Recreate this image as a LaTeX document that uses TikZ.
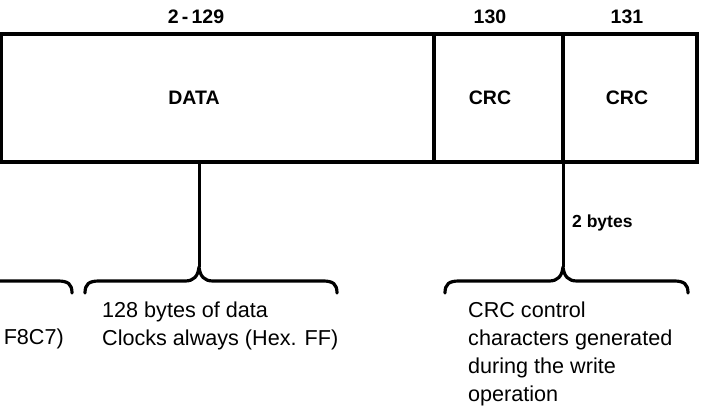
\documentclass[tikz,border=0pt]{standalone}
\usepackage{fontspec}
\setmainfont{Liberation Sans}
\tikzset{
  boxline/.style={line width=3.4pt, line cap=rect},
  stem/.style={line width=3pt},
  bracestyle/.style={line width=3.2pt, line cap=round, line join=round},
  boldlabel/.style={font=\fontsize{19.5}{23}\selectfont\bfseries, inner sep=0pt},
  smalllabel/.style={font=\fontsize{17.5}{21}\selectfont\bfseries, inner sep=0pt},
  desc/.style={font=\fontsize{21.6}{28}\selectfont, align=left, inner sep=0pt},
}
\newcommand{\drawcurly}[3]{%
  \draw[bracestyle] (#1,293) .. controls (#1,284) and (#1+4,281) .. (#1+14,281)
    -- (#2-14,281) .. controls (#2-5,281) and (#2-1,276) .. (#2,267)
    .. controls (#2+1,276) and (#2+5,281) .. (#2+14,281)
    -- (#3-14,281) .. controls (#3-4,281) and (#3,284) .. (#3,293);}
\begin{document}
\begin{tikzpicture}[x=1pt,y=-1pt]
\useasboundingbox (0,0) rectangle (702,408);
% record box
\draw[boxline] (1,34) rectangle (697,162);
\draw[boxline] (434,34) -- (434,162);
\draw[boxline] (563,34) -- (563,162);
% header labels
\node[boldlabel] (hdata) at (196,17) {2\,-\,129};
\node[boldlabel] (h130) at (490,17) {130};
\node[boldlabel] (h131) at (627,17) {131};
% cell labels
\node[boldlabel] (ldata) at (194,98) {DATA};
\node[boldlabel] (lcrc1) at (490,98) {CRC};
\node[boldlabel] (lcrc2) at (627,98) {CRC};
% stems
\coordinate (dataout) at (199,164);
\coordinate (datatip) at (199,267);
\coordinate (crcout) at (563,164);
\coordinate (crctip) at (563,267);
\draw[stem] (dataout) -- (datatip);
\draw[stem] (crcout) -- (crctip);
\node[smalllabel, anchor=west] (twobytes) at (572,223) {2 bytes};
% braces
\draw[bracestyle] (-20,281) -- (58,281) .. controls (68,281) and (72,284) .. (72,293);
\drawcurly{85}{199}{337}
\drawcurly{445}{563}{688}
% descriptions
\node[desc, anchor=east] (prevdesc) at (64,339) {F8C7)};
\node[desc, anchor=west] (datadesc) at (102,326) {128 bytes of data\\Clocks always (Hex. FF)};
\node[desc, anchor=west] (crcdesc) at (468,354) {CRC control\\characters generated\\during the write\\operation};
\end{tikzpicture}
\end{document}
